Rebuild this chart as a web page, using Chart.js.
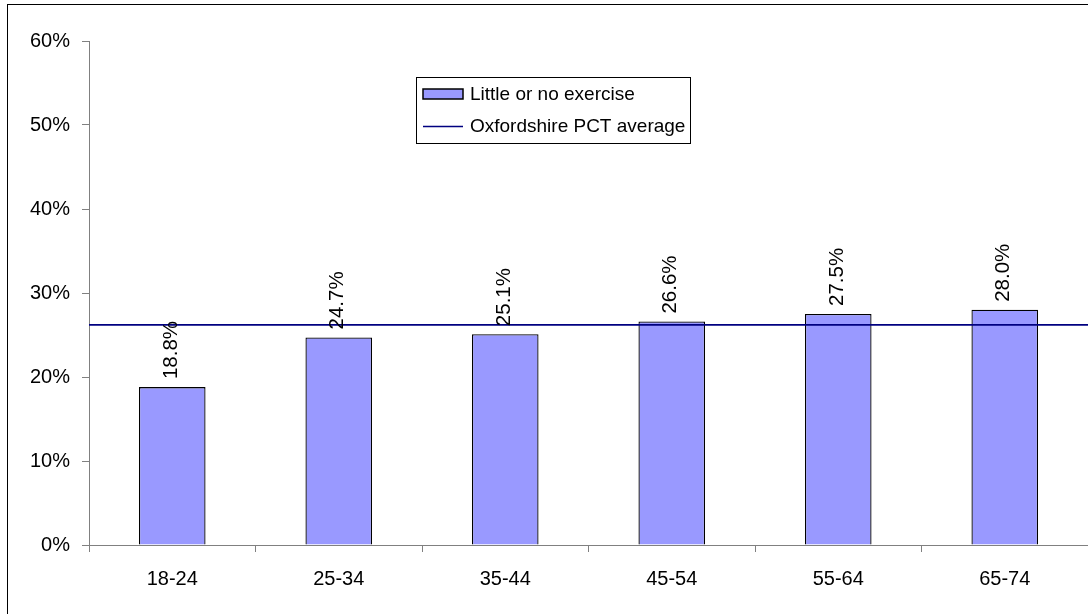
<!DOCTYPE html>
<html>
<head>
<meta charset="utf-8">
<script src="https://cdn.jsdelivr.net/npm/chart.js@4/dist/chart.umd.min.js"></script>
<style>
html,body{margin:0;padding:0;background:#fff;}
#wrap{width:1088px;height:614px;position:relative;}
</style>
</head>
<body>
<div id="wrap"><canvas id="c" width="1088" height="614"></canvas></div>
<script>
const categories = ["18-24","25-34","35-44","45-54","55-64","65-74"];
const exerciseValues = [18.8, 24.7, 25.1, 26.6, 27.5, 28.0];
const averageValue = 26.2;
const yTickValues = [0,10,20,30,40,50,60];
const seriesLabels = ["Little or no exercise","Oxfordshire PCT average"];

const FONT = "'Liberation Sans', Arial, sans-serif";

const framePlugin = {
  id:'frame',
  beforeDraw(chart){
    const ctx = chart.ctx;
    ctx.save();
    ctx.fillStyle = '#fff';
    ctx.fillRect(0,0,chart.width,chart.height);
    ctx.strokeStyle = '#000';
    ctx.lineWidth = 1;
    ctx.strokeRect(7.5,4.5,1300,1300);
    ctx.restore();
  }
};

const labelPlugin = {
  id:'barLabels',
  afterDatasetsDraw(chart){
    const ctx = chart.ctx;
    const meta = chart.getDatasetMeta(0);
    ctx.save();
    ctx.fillStyle = '#000';
    ctx.font = '20.5px ' + FONT;
    ctx.textAlign = 'left';
    ctx.textBaseline = 'middle';
    meta.data.forEach((bar,i)=>{
      ctx.save();
      ctx.translate(bar.x - 1, bar.y - 8);
      ctx.rotate(-Math.PI/2);
      ctx.fillText(exerciseValues[i].toFixed(1) + '%', 0, 0);
      ctx.restore();
    });
    ctx.restore();
  }
};

const legendPlugin = {
  id:'customLegend',
  afterDraw(chart){
    const ctx = chart.ctx;
    const ds = chart.data.datasets;
    ctx.save();
    ctx.fillStyle = '#fff';
    ctx.fillRect(416.5,77.5,274,66);
    ctx.strokeStyle = '#000';
    ctx.lineWidth = 1;
    ctx.strokeRect(416.5,77.5,274,66);
    ctx.fillStyle = ds[0].backgroundColor;
    ctx.fillRect(423,89,40,10);
    ctx.strokeStyle = '#000';
    ctx.lineWidth = 1.5;
    ctx.strokeRect(423,89,40,10);
    ctx.strokeStyle = ds[1].borderColor;
    ctx.lineWidth = 1.5;
    ctx.beginPath();
    ctx.moveTo(423,126.5);
    ctx.lineTo(463,126.5);
    ctx.stroke();
    ctx.fillStyle = '#000';
    ctx.font = '19px ' + FONT;
    ctx.textAlign = 'left';
    ctx.textBaseline = 'middle';
    ctx.fillText(ds[0].label, 470, 95);
    ctx.fillText(ds[1].label, 470, 127);
    ctx.restore();
  }
};

new Chart(document.getElementById('c'), {
  type:'bar',
  data:{
    labels: categories,
    datasets:[
      {
        type:'bar',
        label: seriesLabels[0],
        data: exerciseValues,
        backgroundColor:'#9999FF',
        borderColor:'#000',
        borderWidth:1.3,
        barPercentage:0.4,
        categoryPercentage:1,
        grouped:false,
        order:1,
        xAxisID:'x', yAxisID:'y'
      },
      {
        type:'line',
        label: seriesLabels[1],
        data:[{x:0,y:averageValue},{x:1,y:averageValue}],
        borderColor:'#000080',
        borderWidth:1.6,
        pointRadius:0,
        fill:false,
        order:0,
        xAxisID:'x2', yAxisID:'y'
      }
    ]
  },
  options:{
    responsive:false,
    animation:false,
    devicePixelRatio:1,
    layout:{padding:{left:0,top:41,right:0,bottom:0}},
    plugins:{legend:{display:false},tooltip:{enabled:false}},
    scales:{
      x:{
        type:'category',
        offset:true,
        afterFit(s){ s.height = 69; },
        grid:{display:true, offset:true, drawOnChartArea:false, drawTicks:true, tickLength:7, color:'#808080', lineWidth:1},
        border:{display:true, color:'#808080', width:1},
        ticks:{color:'#000', font:{family:FONT, size:20}, padding:15, maxRotation:0}
      },
      x2:{
        type:'linear', display:false, offset:false, min:0, max:1
      },
      y:{
        min:0, max:60,
        afterFit(s){ s.width = 89; },
        afterBuildTicks(s){ s.ticks = yTickValues.map(v=>({value:v})); },
        grid:{display:true, drawOnChartArea:false, drawTicks:true, tickLength:7, color:'#808080', lineWidth:1},
        border:{display:true, color:'#808080', width:1},
        ticks:{color:'#000', font:{family:FONT, size:20}, padding:12, callback:v=>v+'%'}
      }
    }
  },
  plugins:[framePlugin, labelPlugin, legendPlugin]
});
</script>
</body>
</html>
